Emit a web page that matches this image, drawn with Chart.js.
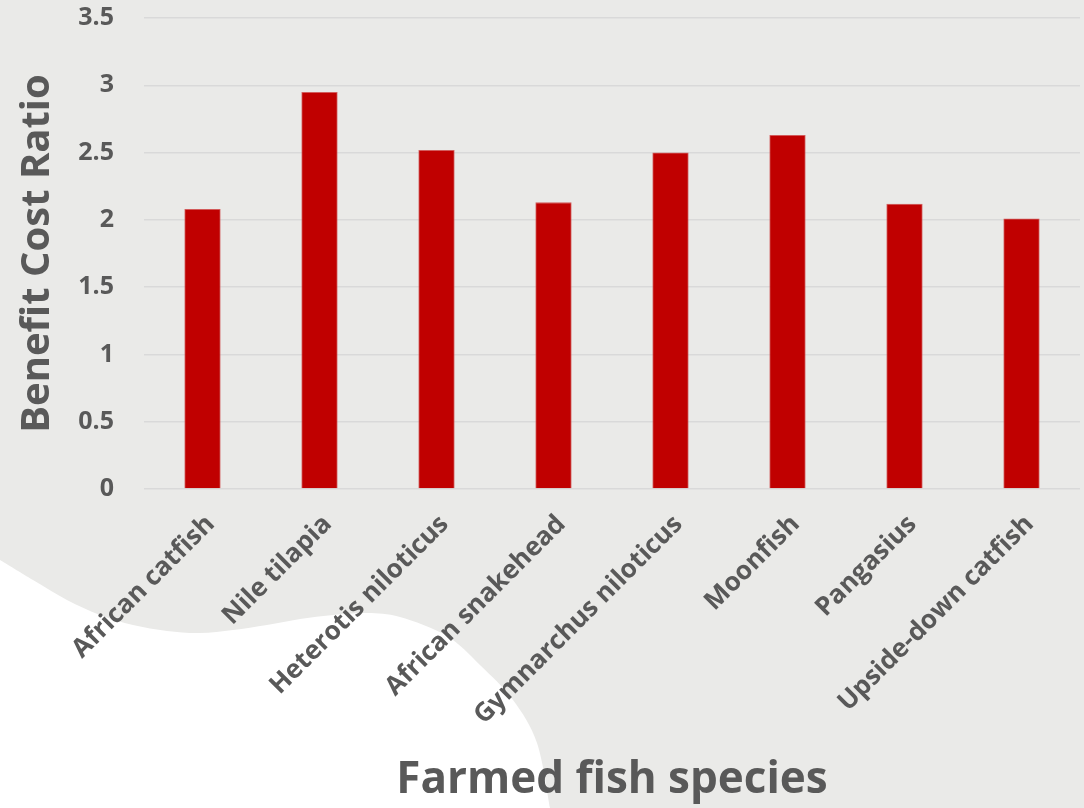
<!DOCTYPE html>
<html>
<head>
<meta charset="utf-8">
<script src="https://cdn.jsdelivr.net/npm/chart.js@4.4.1/dist/chart.umd.min.js"></script>
<style>
  html, body { margin: 0; padding: 0; background: #ffffff; }
  #wrap { width: 1084px; height: 808px; position: relative; }
</style>
</head>
<body>
<div id="wrap"><canvas id="c"></canvas></div>
<script>
const categories = [
  "African catfish",
  "Nile tilapia",
  "Heterotis niloticus",
  "African snakehead",
  "Gymnarchus niloticus",
  "Moonfish",
  "Pangasius",
  "Upside-down catfish"
];
const benefitCostRatio = [2.08, 2.95, 2.52, 2.13, 2.50, 2.63, 2.12, 2.01];
const yTickValues = [0, 0.5, 1, 1.5, 2, 2.5, 3, 3.5];
const yTitle = "Benefit Cost Ratio";
const xTitle = "Farmed fish species";

const FONT = "'Open Sans', sans-serif";
const TEXT = "#595959";

// decorative background: light grey page with a white wave in the lower-left
const backgroundPlugin = {
  id: "pageBackground",
  beforeDraw(chart) {
    const ctx = chart.ctx;
    const w = chart.width, h = chart.height;
    ctx.save();
    ctx.fillStyle = "#EAEAE8";
    ctx.fillRect(0, 0, w, h);
    const pts = [[0,560],[33,580],[67,600],[100,615],[133,625],[167,631],[200,633],
                 [233,630],[267,625],[300,619],[333,615],[367,613],[400,617],
                 [447,636],[480,665],[513,700],[537,743],[550,808]];
    ctx.beginPath();
    ctx.moveTo(0, h);
    ctx.lineTo(pts[0][0], pts[0][1]);
    for (let i = 0; i < pts.length - 1; i++) {
      const p0 = pts[Math.max(0, i - 1)], p1 = pts[i], p2 = pts[i + 1], p3 = pts[Math.min(pts.length - 1, i + 2)];
      const c1x = p1[0] + (p2[0] - p0[0]) / 6, c1y = p1[1] + (p2[1] - p0[1]) / 6;
      const c2x = p2[0] - (p3[0] - p1[0]) / 6, c2y = p2[1] - (p3[1] - p1[1]) / 6;
      ctx.bezierCurveTo(c1x, c1y, c2x, c2y, p2[0], p2[1]);
    }
    ctx.lineTo(550, h);
    ctx.closePath();
    ctx.fillStyle = "#FFFFFF";
    ctx.fill();
    ctx.restore();
  }
};

new Chart(document.getElementById("c"), {
  type: "bar",
  data: {
    labels: categories,
    datasets: [{
      data: benefitCostRatio,
      backgroundColor: "#C00000",
      borderColor: "#D25A5A",
      borderWidth: 0.8,
      barPercentage: 0.31,
      categoryPercentage: 1.0
    }]
  },
  options: {
    responsive: true,
    maintainAspectRatio: false,
    animation: false,
    layout: { padding: { top: 18, right: 4, left: 0, bottom: 0 } },
    plugins: {
      legend: { display: false },
      tooltip: { enabled: false }
    },
    scales: {
      x: {
        grid: { display: false, drawTicks: false },
        border: { display: false },
        ticks: {
          autoSkip: false,
          minRotation: 45,
          maxRotation: 45,
          padding: 20,
          labelOffset: 8,
          color: TEXT,
          font: { family: FONT, size: 26, weight: "bold" }
        },
        title: {
          display: true,
          text: xTitle,
          color: TEXT,
          font: { family: FONT, size: 44, weight: "bold" },
          padding: { top: 0, bottom: 1 }
        },
        afterFit(scale) { scale.height = 319; }
      },
      y: {
        min: 0,
        max: 3.5,
        afterBuildTicks(scale) { scale.ticks = yTickValues.map(v => ({ value: v })); },
        grid: { color: "#D9D9D9", lineWidth: 1.5, drawTicks: true, tickLength: 28, tickColor: "rgba(0,0,0,0)" },
        border: { display: false },
        ticks: {
          padding: 2,
          color: TEXT,
          font: { family: FONT, size: 25, weight: "bold" },
          callback: (v) => String(v)
        },
        title: {
          display: true,
          text: yTitle,
          color: TEXT,
          font: { family: FONT, size: 40, weight: "bold" },
          padding: { top: 14, bottom: 0 }
        },
        afterFit(scale) { scale.width = 144; }
      }
    }
  },
  plugins: [backgroundPlugin]
});
</script>
</body>
</html>
